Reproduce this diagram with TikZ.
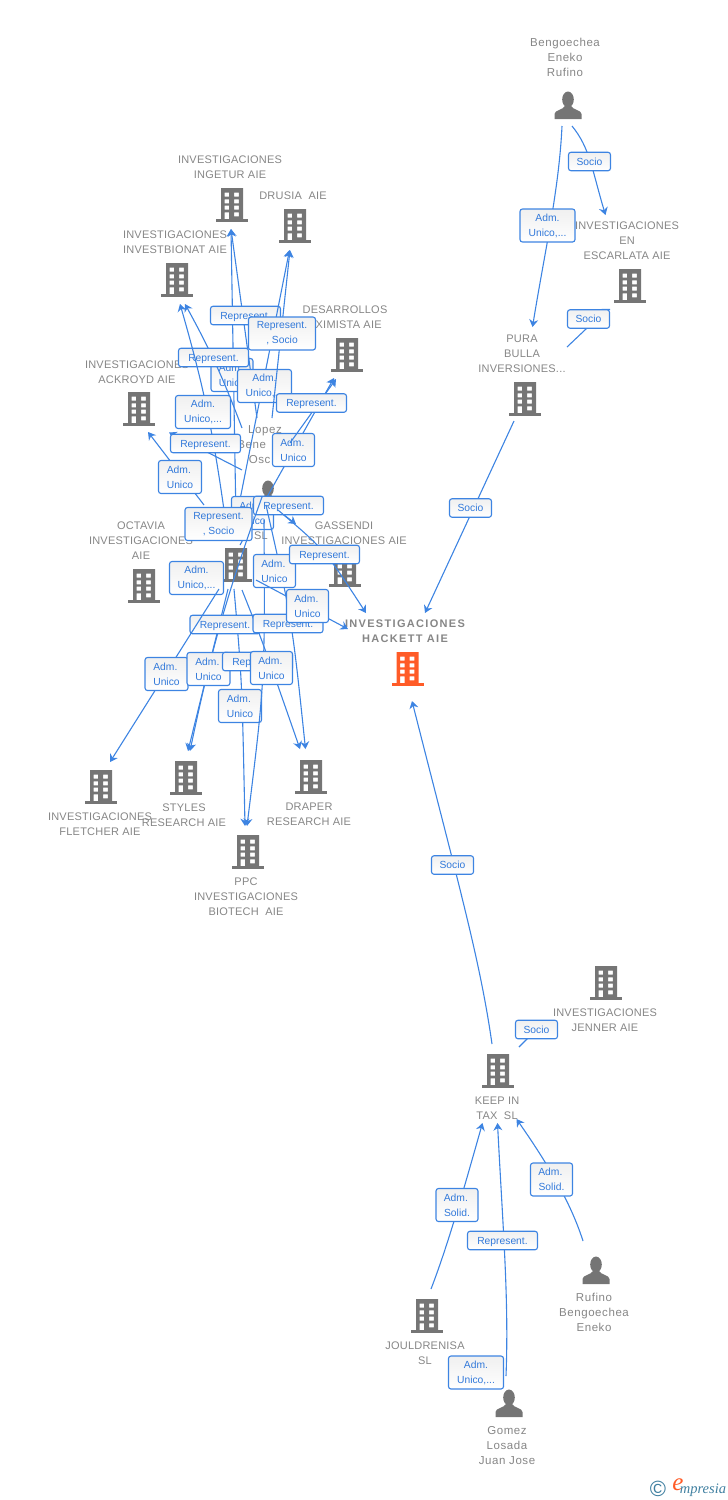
\documentclass[tikz,border=0pt]{standalone}
\usepackage{fontspec}
\setmainfont{Liberation Sans}
\newfontfamily\namefont[LetterSpace=5]{Liberation Sans}
\newfontfamily\firmfont[LetterSpace=2]{Liberation Sans}
\newfontfamily\hackfont[LetterSpace=12]{Liberation Sans}
\newfontfamily\logofont{Liberation Serif}
\usetikzlibrary{arrows.meta}
\definecolor{linkblue}{HTML}{3D84E2}
\definecolor{reltext}{HTML}{3279DA}
\definecolor{namegray}{HTML}{868686}
\definecolor{icongray}{HTML}{757575}
\definecolor{hackorange}{HTML}{FF5B27}
\definecolor{logoblue}{HTML}{3F7FA0}
\newcommand{\repword}{\raisebox{0pt}[\height][0pt]{Represent.}}
\tikzset{
 link/.style={draw=linkblue,line width=1.1pt,-{Stealth[length=7.5pt,width=9pt,inset=2.5pt]}},
 plain/.style={draw=linkblue,line width=1.1pt},
 rel/.style={draw=linkblue,line width=1.1pt,rounded corners=2.5pt,top color=black!6,bottom color=white,text=reltext,
  font=\fontsize{10.3}{15}\selectfont,align=center,inner sep=0pt,minimum height=18.5pt,minimum width=#1},
 relb/.style={rel=#1,minimum height=33pt,execute at begin node={\rule{0pt}{9.4pt}}},
 company/.style={text=namegray,font=\firmfont\fontsize{11}{15}\selectfont,align=center,inner sep=0pt,yshift=-0.8pt},
 person/.style={text=namegray,font=\namefont\fontsize{11.5}{15}\selectfont,align=center,inner sep=0pt},
 spot/.style={inner sep=0pt,minimum size=0pt},
 pics/building/.style={code={
  \fill[#1,even odd rule] (-11,-17) rectangle (11,14)
   (-7.5,-12.3) rectangle (-2.8,-8.3) (2.2,-12.3) rectangle (6.8,-8.3)
   (-7.5,-5.7) rectangle (-2.8,-1.7) (2.2,-5.7) rectangle (6.8,-1.7)
   (-7.5,0.7) rectangle (-2.8,4.7) (2.2,0.7) rectangle (6.8,4.7)
   (-7.5,7.3) rectangle (-2.8,14) (2.2,7.3) rectangle (6.8,11.3);
  \fill[#1] (-16,13.7) rectangle (16,17);
 }},
 pics/human/.style={code={
  \fill[icongray] (0,-5.5) ellipse (5.8 and 8);
  \fill[icongray] (-13.5,14) -- (-13.5,9) .. controls (-13.5,5) and (-5,5) .. (-3,1) -- (3,1) .. controls (5,5) and (13.5,5) .. (13.5,9) -- (13.5,14) -- cycle;
 }}
}
\begin{document}
\begin{tikzpicture}[x=1pt,y=-1pt]
\useasboundingbox (0,0) rectangle (728,1500);

\node[spot] (bengo) at (568,105) {}; \pic at (bengo) {human};
\node[person] (bengol) at (565,57) {Bengoechea\\Eneko\\Rufino};
\node[spot] (escar) at (630,286) {}; \pic at (escar) {building=icongray};
\node[company] (escarl) at (627,240) {INVESTIGACIONES\\EN\\ESCARLATA AIE};
\node[spot] (pura) at (525,399) {}; \pic at (pura) {building=icongray};
\node[company] (pural) at (522,353) {PURA\\BULLA\\INVERSIONES...};
\node[spot] (hack) at (407.5,669) {}; \pic at (hack) {building=hackorange};
\node[company,font=\hackfont\bfseries\fontsize{11}{15}\selectfont] (hackl) at (405,630) {INVESTIGACIONES\\HACKETT AIE};
\node[spot] (keep) at (498,1071) {}; \pic at (keep) {building=icongray};
\node[company] (keepl) at (497,1107.5) {KEEP IN\\TAX\ \ SL};
\node[spot] (jenner) at (606,983) {}; \pic at (jenner) {building=icongray};
\node[company] (jennerl) at (605,1019.5) {INVESTIGACIONES\\JENNER AIE};
\node[spot] (joul) at (427,1316) {}; \pic at (joul) {building=icongray};
\node[company] (joull) at (425,1352.5) {JOULDRENISA\\SL};
\node[spot] (rufino) at (596,1270) {}; \pic at (rufino) {human};
\node[person] (rufinol) at (594,1312) {Rufino\\Bengoechea\\Eneko};
\node[spot] (gomez) at (509,1403) {}; \pic at (gomez) {human};
\node[person] (gomezl) at (507,1446) {Gomez\\Losada\\Juan Jose};
\node[spot] (inget) at (232,205) {}; \pic at (inget) {building=icongray};
\node[company] (ingetl) at (230,166.5) {INVESTIGACIONES\\INGETUR AIE};
\node[spot] (drusia) at (295,226) {}; \pic at (drusia) {building=icongray};
\node[company] (drusial) at (293,195) {DRUSIA\ \ AIE};
\node[spot] (bionat) at (177,280) {}; \pic at (bionat) {building=icongray};
\node[company] (bionatl) at (175,241.5) {INVESTIGACIONES\\INVESTBIONAT AIE};
\node[spot] (desar) at (347,355) {}; \pic at (desar) {building=icongray};
\node[company] (desarl) at (345,316.5) {DESARROLLOS\\\hphantom{E}XIMISTA AIE};
\node[spot] (ackroyd) at (139,409) {}; \pic at (ackroyd) {building=icongray};
\node[company] (ackroydl) at (137,371.5) {INVESTIGACIONES\\ACKROYD AIE};
\node[person] (lopezl) at (265,445) {Lopez\\Bene\hphantom{dicto}\\Osc\hphantom{ar}};
\node[spot] (lopez) at (268,494) {}; \pic at (lopez) {human};
\node[company] (slname) at (261,535) {SL};
\node[spot] (ingen) at (236,565) {}; \pic at (ingen) {building=icongray};
\node[spot] (octavia) at (144,586) {}; \pic at (octavia) {building=icongray};
\node[company] (octavial) at (141,540) {OCTAVIA\\INVESTIGACIONES\\AIE};
\node[spot] (gassendi) at (345,570) {}; \pic at (gassendi) {building=icongray};
\node[company] (gassendil) at (344,532.5) {GASSENDI\\INVESTIGACIONES AIE};
\node[spot] (fletcher) at (101,787) {}; \pic at (fletcher) {building=icongray};
\node[company] (fletcherl) at (100,823.5) {INVESTIGACIONES\\FLETCHER AIE};
\node[spot] (styles) at (186,778) {}; \pic at (styles) {building=icongray};
\node[company] (stylesl) at (184,814.5) {STYLES\\RESEARCH AIE};
\node[spot] (draper) at (311,777) {}; \pic at (draper) {building=icongray};
\node[company] (draperl) at (309,813.5) {DRAPER\\RESEARCH AIE};
\node[spot] (ppc) at (248,852) {}; \pic at (ppc) {building=icongray};
\node[company] (ppcl) at (246,896) {PPC\\INVESTIGACIONES\\BIOTECH\ \ AIE};

\coordinate (bengoa) at (562,126); \coordinate (puratip) at (532.5,327);
\draw[link] (bengoa) .. controls (559,190) and (545,250) .. (puratip);
\node[relb=55] (relbp) at (547.5,225.5) {Adm.\\Unico,...};
\coordinate (bengob) at (572,126); \coordinate (escartip) at (605.5,215);
\draw[link] (bengob) .. controls (590,148) and (592,170) .. (escartip);
\node[rel=42] (relbe) at (589.5,161.5) {Socio};
\coordinate (purab) at (567,347); \coordinate (escarb) at (610,309.5);
\draw[plain] (purab) -- (586,329) -- (602,309.5) -- (escarb);
\node[rel=42] (relpe) at (588.5,319) {Socio};
\coordinate (purac) at (514,421); \coordinate (hacktipa) at (425,613);
\draw[link] (purac) -- (hacktipa);
\node[rel=42] (relph) at (470.5,508) {Socio};
\coordinate (keepa) at (492,1044); \coordinate (hacktipb) at (412,701);
\draw[link] (keepa) .. controls (480,960) and (460,890) .. (hacktipb);
\node[rel=42] (relkh) at (452.5,865) {Socio};
\coordinate (keepb) at (519,1047); \coordinate (jennerb) at (536,1030);
\draw[plain] (keepb) -- (jennerb);
\node[rel=42] (reljk) at (536.5,1029.5) {Socio};
\coordinate (rufinoa) at (583,1241); \coordinate (keeptipa) at (516.5,1119);
\draw[link] (rufinoa) .. controls (570,1200) and (545,1160) .. (keeptipa);
\node[relb=42] (relrk) at (551.5,1179.5) {Adm.\hphantom{i}\\Solid.};
\coordinate (joula) at (431,1289); \coordinate (keeptipb) at (482.5,1123);
\draw[link] (joula) .. controls (448,1245) and (465,1185) .. (keeptipb);
\node[relb=42] (reljok) at (457,1205) {Adm.\hphantom{i}\\Solid.};
\coordinate (gomeza) at (506,1376); \coordinate (keeptipc) at (497.5,1123);
\draw[link] (gomeza) .. controls (509,1300) and (503,1230) .. (keeptipc);
\node[rel=70] (relgk) at (502.5,1240.5) {\repword};
\node[relb=55] (relgj) at (476,1372.5) {Adm.\\Unico,...};

\coordinate (ingena) at (236,520); \coordinate (ingettipa) at (231,229);
\draw[link] (ingena) -- (ingettipa);
\node[relb=42] (relia) at (232,375) {Adm.\hphantom{i}\\Unico};
\coordinate (lopeza) at (257,418); \coordinate (ingettipb) at (231,229);
\draw[link] (lopeza) -- (ingettipb);
\node[rel=70] (relib) at (245.5,315.5) {\repword};
\coordinate (ingenb) at (232,540); \coordinate (drusiatipa) at (289.5,250);
\draw[link] (ingenb) -- (drusiatipa);
\node[relb=54] (relda) at (264.5,386) {Adm.\\Unico,...};
\coordinate (lopezb) at (272,418); \coordinate (drusiatipb) at (290,250);
\draw[link] (lopezb) -- (drusiatipb);
\node[relb=67] (reldb) at (282,333.5) {Represent.\\, Socio};
\coordinate (lopezc) at (242,428); \coordinate (bionattipa) at (185,304);
\draw[link] (lopezc) to[bend right=4] (bionattipa);
\node[rel=70] (relba) at (213.5,357.5) {\repword};
\coordinate (ingenc) at (224,510); \coordinate (bionattipb) at (180,304);
\draw[link] (ingenc) to[bend right=4] (bionattipb);
\node[relb=55] (relbb) at (203,412) {Adm.\\Unico,...};
\coordinate (lopezd) at (242,470); \coordinate (ackroydtipa) at (169,432.5);
\draw[link] (lopezd) -- (ackroydtipa);
\node[rel=70] (relaa) at (205.5,443.5) {\repword};
\coordinate (ingend) at (204,505); \coordinate (ackroydtipb) at (148,432);
\draw[link] (ingend) -- (ackroydtipb);
\node[relb=43] (relab) at (180,477) {Adm.\hphantom{i}\\Unico};

\coordinate (ingene) at (240,545); \coordinate (desartipa) at (334,378);
\draw[link] (ingene) -- (desartipa);
\node[relb=42] (relde) at (293.5,450) {Adm.\hphantom{i}\\Unico};
\coordinate (lopeze) at (290,443); \coordinate (desartipb) at (336,379);
\draw[link] (lopeze) -- (desartipb);
\node[rel=70] (reldf) at (311.5,403) {\repword};

\node[relb=42] (relhid) at (252.5,513) {Adm.\hphantom{i}\\Unico};
\coordinate (lopezf) at (272,506); \coordinate (gassenditip) at (296,524);
\draw[link] (lopezf) -- (gassenditip);
\node[rel=70] (relga) at (288.5,505.5) {\repword};
\node[relb=67] (relra) at (218.5,524) {Represent.\\, Socio};
\node[relb=54] (relrb) at (196.5,578) {Adm.\\Unico,...};

\coordinate (lopezg) at (262,497); \coordinate (stylestipa) at (190,751);
\draw[link] (lopezg) to[bend right=4] (stylestipa);
\coordinate (ingenf) at (228,589); \coordinate (stylestipb) at (188,751);
\draw[link] (ingenf) -- (stylestipb);
\coordinate (ingeng) at (234,589); \coordinate (ppctipa) at (245,826);
\draw[link] (ingeng) .. controls (242,680) .. (ppctipa);
\node[rel=70] (relsa) at (225,624.5) {\repword};
\coordinate (ingenh) at (219,589); \coordinate (fletchertip) at (110,762);
\draw[link] (ingenh) -- (fletchertip);
\node[relb=43] (relfa) at (166.5,674) {Adm.\hphantom{i}\\Unico};
\node[relb=43] (relsb) at (208.5,669) {Adm.\hphantom{i}\\Unico};
\node[relb=43] (relpa) at (240,706) {Adm.\hphantom{i}\\Unico};
\coordinate (lopezh) at (264,520); \coordinate (ppctipb) at (247,826);
\draw[link] (lopezh) .. controls (265,680) .. (ppctipb);
\node[rel=70] (relpb) at (257.5,661.5) {\raisebox{0pt}[\height][0pt]{Repr\hphantom{esent.}}};
\coordinate (ingeni) at (242,590); \coordinate (drapertipa) at (300,749);
\draw[link] (ingeni) .. controls (262,640) .. (drapertipa);
\node[relb=42] (relda2) at (271.5,668) {Adm.\hphantom{i}\\Unico};
\coordinate (lopezi) at (266,505); \coordinate (drapertipb) at (305.5,749);
\draw[link] (lopezi) .. controls (292,620) .. (drapertipb);
\node[relb=42] (relhb) at (274.5,571) {Adm.\hphantom{i}\\Unico};
\node[rel=70] (reldb2) at (288,623.5) {\repword};
\coordinate (lopezj) at (278,510); \coordinate (hacktipc) at (366,613);
\draw[link] (lopezj) .. controls (325,550) .. (hacktipc);
\node[rel=70] (relhc) at (324.5,554.5) {\repword};
\coordinate (ingenj) at (256,580); \coordinate (hacktipd) at (348,629);
\draw[link] (ingenj) -- (hacktipd);
\node[relb=42] (relhd) at (307.5,606) {Adm.\hphantom{i}\\Unico};

\node[text=logoblue,inner sep=0pt,font=\fontsize{22}{22}\selectfont] (copyr) at (658,1489) {©};
\node[text=hackorange,inner sep=0pt,font=\logofont\itshape\fontsize{25}{25}\selectfont] (logoe) at (678,1484.5) {e};
\node[text=logoblue,inner sep=0pt,font=\logofont\itshape\fontsize{14.5}{14.5}\selectfont] (logot) at (703,1490) {mpresia};
\end{tikzpicture}
\end{document}
